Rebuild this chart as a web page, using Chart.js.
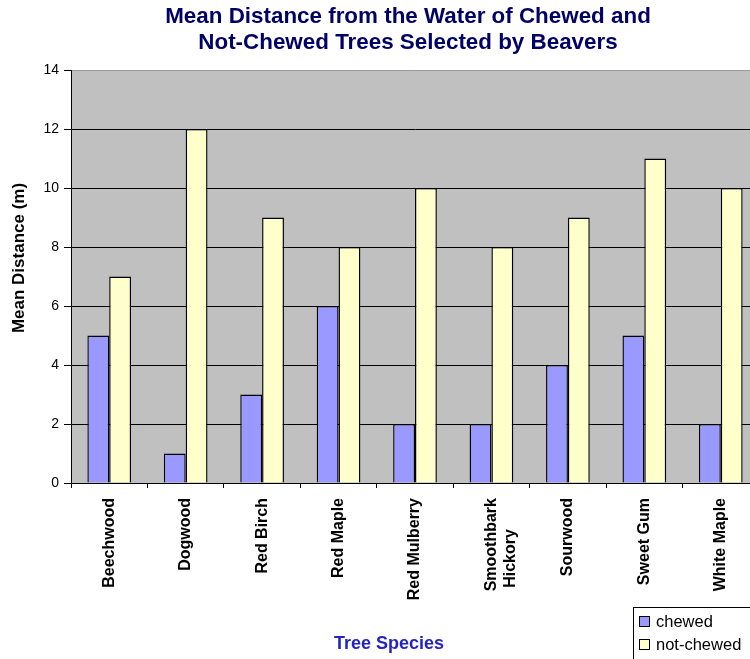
<!DOCTYPE html>
<html>
<head>
<meta charset="utf-8">
<script src="https://cdn.jsdelivr.net/npm/chart.js@4"></script>
<style>
html,body{margin:0;padding:0;background:#fff;overflow:hidden;width:750px;height:659px;}
canvas{display:block;}
</style>
</head>
<body>
<canvas id="c" width="770" height="659" style="width:770px;height:659px"></canvas>
<script>
const categories = ['Beechwood','Dogwood','Red Birch','Red Maple','Red Mulberry',['Smoothbark','Hickory'],'Sourwood','Sweet Gum','White Maple'];
const chewed = [5,1,3,6,2,2,4,5,2];
const notChewed = [7,12,9,8,10,8,9,11,10];
const seriesNames = ['chewed','not-chewed'];
const titleLines = ['Mean Distance from the Water of Chewed and','Not-Chewed Trees Selected by Beavers'];
const xTitle = 'Tree Species';
const yTitle = 'Mean Distance (m)';

const FONT = '"Liberation Sans", Arial, sans-serif';
Chart.defaults.font.family = FONT;

const deco = {
  id:'deco',
  beforeDraw(chart){
    const {ctx, chartArea:a} = chart;
    ctx.save();
    ctx.fillStyle = '#C0C0C0';
    ctx.fillRect(a.left, a.top, a.right-a.left, a.bottom-a.top);
    ctx.restore();
  },
  afterDraw(chart){
    const ctx = chart.ctx;
    ctx.save();
    // title
    ctx.fillStyle = '#000066';
    ctx.font = 'bold 22.4px ' + FONT;
    ctx.textAlign = 'center';
    ctx.textBaseline = 'middle';
    ctx.fillText(titleLines[0], 408, 17);
    ctx.fillText(titleLines[1], 408, 43);
    // x title
    ctx.fillStyle = '#2424C4';
    ctx.font = 'bold 18px ' + FONT;
    ctx.fillText(xTitle, 389, 644);
    // y title
    ctx.save();
    ctx.translate(19, 258);
    ctx.rotate(-Math.PI/2);
    ctx.fillStyle = '#000';
    ctx.font = 'bold 17px ' + FONT;
    ctx.fillText(yTitle, 0, 0);
    ctx.restore();
    // legend
    ctx.fillStyle = '#fff';
    ctx.fillRect(633.5, 607.5, 140, 60);
    ctx.strokeStyle = '#000';
    ctx.lineWidth = 1;
    ctx.strokeRect(633.5, 607.5, 140, 60);
    const ys = [622, 645];
    chart.data.datasets.forEach((ds, i) => {
      ctx.fillStyle = ds.backgroundColor;
      ctx.fillRect(639.5, ys[i]-5.5, 10, 10);
      ctx.strokeRect(639.5, ys[i]-5.5, 10, 10);
      ctx.fillStyle = '#000';
      ctx.font = '16.5px ' + FONT;
      ctx.textAlign = 'left';
      ctx.fillText(ds.label, 656, ys[i]);
    });
    ctx.restore();
  }
};

new Chart(document.getElementById('c'), {
  type:'bar',
  data:{
    labels: categories,
    datasets:[
      {label: seriesNames[0], data: chewed, backgroundColor:'#9999FF', borderColor:'#000', borderWidth:1.4},
      {label: seriesNames[1], data: notChewed, backgroundColor:'#FFFFCC', borderColor:'#000', borderWidth:1.4}
    ]
  },
  options:{
    responsive:false,
    animation:false,
    devicePixelRatio:1,
    layout:{padding:{top:70,right:11,left:0,bottom:0}},
    datasets:{bar:{categoryPercentage:2/3.5, barPercentage:1.0}},
    plugins:{legend:{display:false}, title:{display:false}, tooltip:{enabled:false}},
    scales:{
      x:{
        afterFit(s){ s.height = 176; },
        grid:{offset:true, drawOnChartArea:false, drawTicks:true, tickLength:5, color:'#000', tickColor:'#000'},
        border:{color:'#000'},
        ticks:{
          autoSkip:false, maxRotation:90, minRotation:90, padding:10, color:'#000',
          font:{family:FONT, size:16, weight:'bold'},
          callback(v, i){
            const l = categories[i];
            if (Array.isArray(l)) {
              return l.map((s, k) => k === 0 ? s : s + ' '.repeat(Math.round((l[0].length - s.length)*2.3)));
            }
            return l;
          }
        }
      },
      y:{
        min:0, max:14,
        afterFit(s){ s.width = 71; },
        grid:{color:(c)=> c.tick && c.tick.value === 14 ? '#9a9a9a' : '#000', tickColor:'#000', tickLength:7},
        border:{color:'#000'},
        ticks:{stepSize:2, padding:5, color:'#000', font:{family:FONT, size:14}}
      }
    }
  },
  plugins:[deco]
});
</script>
</body>
</html>
